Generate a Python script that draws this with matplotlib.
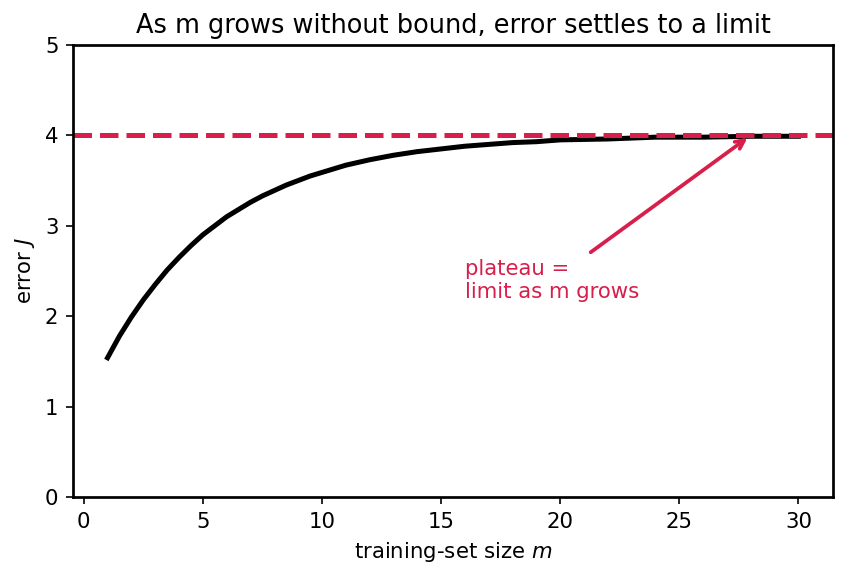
import numpy as np
import matplotlib
matplotlib.use('Agg')
from matplotlib import pyplot as plt

# training-set size and error
m = [1, 1.5, 2, 2.5, 3, 3.5, 4, 4.5, 5, 5.5, 6, 6.5, 7, 7.5, 8, 8.5, 9, 9.5,
     10, 11, 12, 13, 14, 15, 16, 17, 18, 19, 20, 22, 24, 26, 28, 30]
J = [1.54, 1.78, 1.99, 2.18, 2.35, 2.51, 2.65, 2.78, 2.90, 3.00, 3.10, 3.18,
     3.26, 3.33, 3.39, 3.45, 3.50, 3.55, 3.59, 3.67, 3.73, 3.78, 3.82, 3.85,
     3.88, 3.90, 3.92, 3.93, 3.95, 3.96, 3.98, 3.98, 3.99, 3.99]
limit = 4.0
red = '#D81E4A'

fig = plt.figure(figsize=(5.64, 3.847), dpi=150)
ax = fig.add_axes([73 / 846, 1 - 497 / 577, 760 / 846, 452 / 577])

ax.plot(m, J, color='black', lw=2.4)
ax.axhline(limit, color=red, lw=2.4, ls='--')
ax.annotate('plateau =\nlimit as m grows', xy=(28, limit), xytext=(16, 2.2),
            color=red, fontsize=10.2,
            arrowprops=dict(arrowstyle='->', color=red, lw=1.8))

ax.set_ylim(0, 5)
ax.set_xlabel('training-set size $m$', fontsize=10.2)
ax.set_ylabel('error $J$', fontsize=10.2)
ax.set_title('As m grows without bound, error settles to a limit', fontsize=12.3)
for s in ax.spines.values():
    s.set_linewidth(1.3)
ax.tick_params(labelsize=10.2)

fig.savefig('out.png', dpi=150)
